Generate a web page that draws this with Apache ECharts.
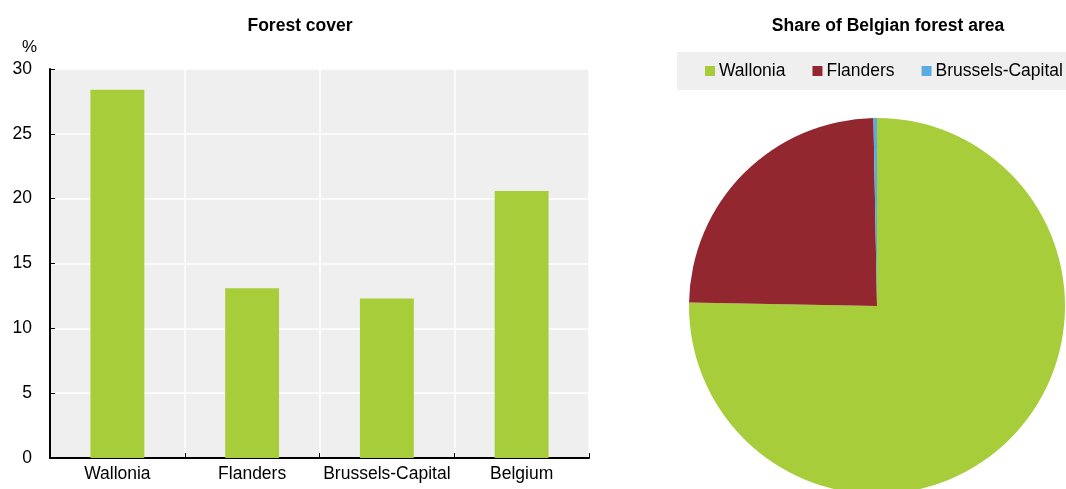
<!DOCTYPE html>
<html>
<head>
<meta charset="utf-8">
<script src="https://cdn.jsdelivr.net/npm/echarts@6/dist/echarts.min.js"></script>
<style>
  html, body { margin: 0; padding: 0; background: #fff; }
  #main { width: 1066px; height: 489px; }
</style>
</head>
<body>
<div id="main"></div>
<script>
// forest cover by region, % of land area
var regions = ['Wallonia', 'Flanders', 'Brussels-Capital', 'Belgium'];
var coverPct = [28.4, 13.1, 12.3, 20.6];
var yTicks = [0, 5, 10, 15, 20, 25, 30];

// share of Belgian forest area
var shareNames = ['Wallonia', 'Flanders', 'Brussels-Capital'];
var shareValues = [75.3, 24.4, 0.3];
var shareColors = ['#a7cd3a', '#93272f', '#5aace0'];

var font = '"Liberation Sans", Arial, sans-serif';
var chart = echarts.init(document.getElementById('main'));

var option = {
  animation: false,
  textStyle: { fontFamily: font },
  title: [
    { text: 'Forest cover', left: 295, top: 12, textAlign: 'center',
      textStyle: { fontSize: 17.5, fontWeight: 'bold', color: '#000', fontFamily: font } },
    { text: 'Share of Belgian forest area', left: 883, top: 12, textAlign: 'center',
      textStyle: { fontSize: 17.5, fontWeight: 'bold', color: '#000', fontFamily: font } }
  ],
  grid: {
    left: 50, right: 477, top: 69, bottom: 31,
    show: true, backgroundColor: '#efefef', borderWidth: 0
  },
  xAxis: {
    type: 'category',
    data: regions,
    axisLine: { lineStyle: { color: '#000', width: 2 } },
    axisTick: { show: true, inside: true, length: 5, interval: 0, lineStyle: { color: '#000' } },
    axisLabel: { color: '#000', fontSize: 17.5, margin: 7, interval: 0, fontFamily: font },
    splitLine: { show: true, interval: 0, lineStyle: { color: '#fff', width: 1.5 } }
  },
  yAxis: {
    type: 'value',
    min: yTicks[0], max: yTicks[yTicks.length - 1], interval: 5,
    name: '%',
    nameLocation: 'end',
    nameGap: 13,
    nameTextStyle: { color: '#000', fontSize: 17, align: 'right', padding: [0, 13, 0, 0], fontFamily: font },
    axisLine: { show: true, lineStyle: { color: '#000', width: 2 } },
    axisTick: { show: true, inside: true, length: 5, lineStyle: { color: '#000' } },
    axisLabel: { color: '#000', fontSize: 17.5, margin: 18, fontFamily: font },
    splitLine: { show: true, lineStyle: { color: '#fff', width: 1.5 } }
  },
  legend: {
    data: shareNames,
    left: 677, top: 52,
    width: 440,
    backgroundColor: '#efefef',
    padding: [10, 20, 10, 28],
    itemGap: 27,
    itemWidth: 10, itemHeight: 10,
    icon: 'rect',
    textStyle: { color: '#000', fontSize: 17.5, fontFamily: font, padding: [0, 0, 0, -1] }
  },
  series: [
    {
      type: 'bar',
      data: coverPct,
      barWidth: '40%',
      itemStyle: { color: '#a7cd3a' }
    },
    {
      type: 'pie',
      center: [877, 306],
      radius: 188,
      startAngle: 90,
      clockwise: true,
      label: { show: false },
      labelLine: { show: false },
      emphasis: { disabled: true },
      data: shareNames.map(function (n, i) {
        return { name: n, value: shareValues[i], itemStyle: { color: shareColors[i] } };
      })
    }
  ]
};
chart.setOption(option);
</script>
</body>
</html>
